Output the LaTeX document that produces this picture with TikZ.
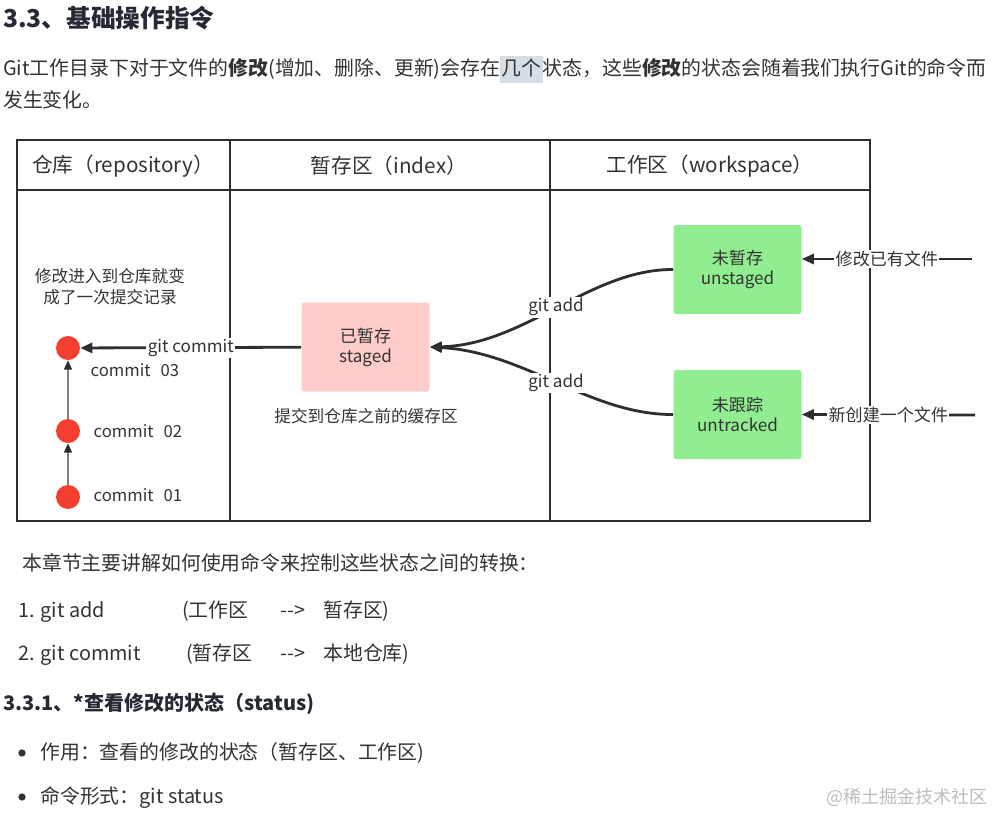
\documentclass[tikz,border=0pt]{standalone}
\usepackage{fontspec}
\setmainfont{Noto Sans CJK SC}
\usepackage{tikz}
\usetikzlibrary{arrows.meta,positioning}
\definecolor{ink}{HTML}{333333}
\definecolor{headink}{HTML}{252933}
\definecolor{frameink}{HTML}{2E2E2E}
\definecolor{commitred}{HTML}{F43E30}
\definecolor{stagepink}{HTML}{FFCCCC}
\definecolor{workgreen}{HTML}{90EE90}
\definecolor{selbg}{HTML}{D5DDE5}
\definecolor{wmgray}{HTML}{BDBDBD}
\tikzset{colhead/.style={font=\fontsize{15.5}{18}\selectfont,text=ink},state/.style={rounded corners=2pt,minimum width=96pt,minimum height=66.75pt,align=center,font=\fontsize{12.8}{15}\selectfont,text=ink},stagedbox/.style={state,fill=stagepink},workbox/.style={state,fill=workgreen},commitdot/.style={circle,fill=commitred,minimum size=18pt,inner sep=0pt},note/.style={font=\fontsize{12.5}{15.75}\selectfont,text=ink,align=center},flow/.style={-{Triangle[length=9pt,width=7.5pt]},line width=2.1pt,draw=frameink},hist/.style={-{Triangle[length=7pt,width=6pt,color=frameink]},line width=1pt,draw=gray},lbl/.style={fill=white,inner sep=1pt,font=\fontsize{12.8}{15}\selectfont,text=ink},para/.style={anchor=base west,inner sep=0pt,font=\fontsize{14.9}{18}\selectfont,text=ink},bullet/.style={circle,fill=ink,minimum size=5.5pt,inner sep=0pt}}

\begin{document}
\begin{tikzpicture}[x=0.75pt,y=-0.75pt]
\fill[white] (0,0) rectangle (993,814);
\useasboundingbox (0,0) rectangle (993,814);
\node[para,font=\bfseries\fontsize{18.5}{22}\selectfont,text=headink] (title) at (3,27) {3.3、基础操作指令};
\node[para] (intro1) at (3,75) {Git工作目录下对于文件的\textbf{修改}(增加、删除、更新)会存在{\setlength{\fboxsep}{1pt}\colorbox{selbg}{\rule[-5pt]{0pt}{18pt}几个}}状态，这些\textbf{修改}的状态会随着我们执行Git的命令而};
\node[para] (intro2) at (3,107) {发生变化。};
\draw[frameink,line width=1.9pt] (17,140) rectangle (870,521);
\draw[frameink,line width=1.9pt] (17,190) -- (870,190);
\draw[frameink,line width=1.9pt] (230,140) -- (230,521);
\draw[frameink,line width=1.9pt] (550,140) -- (550,521);
\node[colhead] (hrepo) at (123,166) {仓库（repository）};
\node[colhead] (hindex) at (389,166) {暂存区（index）};
\node[colhead] (hwork) at (710,166) {工作区（workspace）};
\node[note] (repnote) at (110,287) {修改进入到仓库就变\\成了一次提交记录};
\node[commitdot] (c3) at (68,348) {};
\node[commitdot] (c2) at (68,431) {};
\node[commitdot] (c1) at (68,497) {};
\node[note,anchor=west] (c3lbl) at (86,370) {commit\hspace{0.6em}03};
\node[note,anchor=west] (c2lbl) at (89,431) {commit\hspace{0.6em}02};
\node[note,anchor=west] (c1lbl) at (89,495) {commit\hspace{0.6em}01};
\draw[hist] (c1) -- (c2);
\draw[hist] (c2) -- (c3);
\node[stagedbox] (staged) at (365.5,347) {已暂存\\staged};
\node[note] (stagenote) at (366,416) {提交到仓库之前的缓存区};
\node[workbox] (unstaged) at (737.5,269.5) {未暂存\\unstaged};
\node[workbox] (untracked) at (737.5,414.5) {未跟踪\\untracked};
\coordinate (editin) at (972,259);
\coordinate (newin) at (975,415);
\draw[flow] (staged) -- node[lbl] {git commit} (c3);
\draw[flow] (unstaged.west) .. controls (590,269) and (525,345) .. node[lbl] {git add} (staged.east);
\draw[flow] (untracked.west) .. controls (590,415) and (525,352) .. node[lbl] {git add} (staged.east);
\draw[flow] (editin) -- node[lbl] {修改已有文件} (editin-|unstaged.east);
\draw[flow] (newin) -- node[lbl] {新创建一个文件} (untracked.east);
\node[para] (lead) at (22,570) {本章节主要讲解如何使用命令来控制这些状态之间的转换：};
\node[para] (add1) at (18,617) {1. git add};
\node[para] (add2) at (182,617) {(工作区};
\node[para] (add3) at (280,617) {-{}->};
\node[para] (add4) at (323,617) {暂存区)};
\node[para] (cmt1) at (18,660) {2. git commit};
\node[para] (cmt2) at (186,660) {(暂存区};
\node[para] (cmt3) at (280,660) {-{}->};
\node[para] (cmt4) at (323,660) {本地仓库)};
\node[para,font=\bfseries\fontsize{15}{18}\selectfont,text=headink] (sub) at (3,710) {3.3.1、*查看修改的状态（status)};
\node[bullet] (dot1) at (22,753) {};
\node[para] (use) at (40,759) {作用：查看的修改的状态（暂存区、工作区)};
\node[bullet] (dot2) at (22,797) {};
\node[para] (form) at (40,803) {命令形式：git status};
\node[para,font=\fontsize{13.5}{16}\selectfont,text=wmgray] (mark) at (826,803) {@稀土掘金技术社区};
\end{tikzpicture}
\end{document}
